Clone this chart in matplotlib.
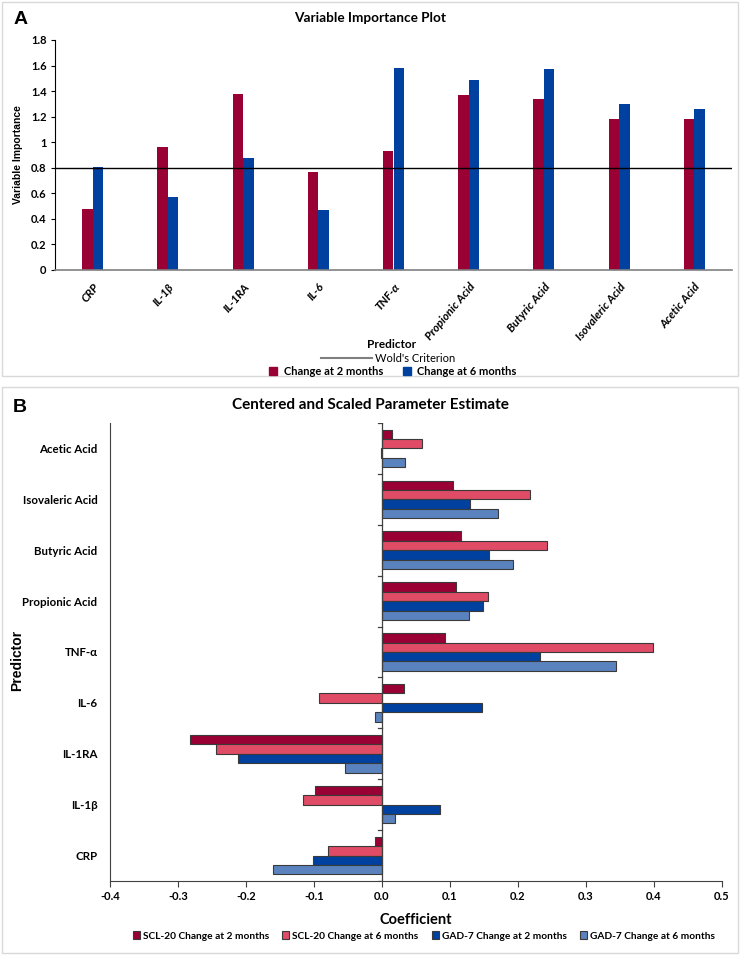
import numpy as np
import matplotlib.pyplot as plt
from matplotlib.patches import Rectangle
from matplotlib.lines import Line2D
from matplotlib.patches import Patch

plt.rcParams['font.family'] = ['Lato', 'DejaVu Sans']

# panel A data
predictors = ['CRP', 'IL-1β', 'IL-1RA', 'IL-6', 'TNF-α', 'Propionic Acid',
              'Butyric Acid', 'Isovaleric Acid', 'Acetic Acid']
vip_2m = [0.48, 0.96, 1.38, 0.77, 0.93, 1.37, 1.34, 1.18, 1.18]
vip_6m = [0.81, 0.57, 0.88, 0.47, 1.58, 1.49, 1.57, 1.30, 1.26]
wold = 0.8

# panel B data (same predictor order, bottom to top)
scl_2m = [-0.011, -0.098, -0.282, 0.033, 0.092, 0.109, 0.116, 0.104, 0.015]
scl_6m = [-0.079, -0.116, -0.244, -0.093, 0.399, 0.156, 0.242, 0.217, 0.059]
gad_2m = [-0.102, 0.086, -0.212, 0.147, 0.233, 0.148, 0.157, 0.130, -0.002]
gad_6m = [-0.161, 0.019, -0.054, -0.010, 0.344, 0.128, 0.193, 0.170, 0.034]

c_red = '#990033'
c_pink = '#E04B66'
c_blue = '#0041A0'
c_lblue = '#5A82BE'

fig = plt.figure(figsize=(7.4, 9.56), dpi=100)
W, H = 740, 956

# panel borders
fig.patches.append(Rectangle((2 / W, 1 - 376 / H), 736 / W, 374 / H, transform=fig.transFigure,
                             fill=False, edgecolor='#d9d9d9', lw=1))
fig.patches.append(Rectangle((2 / W, 1 - 953 / H), 736 / W, 566 / H, transform=fig.transFigure,
                             fill=False, edgecolor='#d9d9d9', lw=1))

# ---------- panel A ----------
axA = fig.add_axes([55 / W, 1 - 270 / H, 677 / W, 230 / H])
x = np.arange(len(predictors))
bw = 0.14
axA.bar(x - bw / 2, vip_2m, bw, color=c_red)
axA.bar(x + bw / 2, vip_6m, bw, color=c_blue)
axA.axhline(wold, color='black', lw=1)
axA.set_xlim(-0.5, len(predictors) - 0.5)
axA.set_ylim(0, 1.8)
axA.set_yticks(np.arange(0, 1.81, 0.2))
axA.set_yticklabels(['0', '0.2', '0.4', '0.6', '0.8', '1', '1.2', '1.4', '1.6', '1.8'],
                    fontsize=8, fontweight='bold')
axA.set_xticks(x)
axA.set_xticklabels(predictors, rotation=50, ha='right', rotation_mode='anchor',
                    fontsize=8.3, fontweight='bold', style='italic')
axA.tick_params(axis='x', length=0, pad=8)
axA.tick_params(axis='y', length=3, pad=3)
for s in ['top', 'right']:
    axA.spines[s].set_visible(False)
axA.spines['bottom'].set_color('#808080')
axA.spines['bottom'].set_linewidth(1.2)
axA.set_ylabel('Variable Importance', fontsize=7.5, fontweight='bold',
               family='Liberation Sans', labelpad=6)
fig.text(370 / W, 1 - 18 / H, 'Variable Importance Plot', ha='center', va='center',
         fontsize=9.8, fontweight='bold')
fig.text(14 / W, 1 - 19 / H, 'A', ha='left', va='center', fontsize=14, fontweight='bold',
         family='Liberation Sans')
fig.text(392 / W, 1 - 345 / H, 'Predictor', ha='center', va='center', fontsize=8.5, fontweight='bold')
fig.legend(handles=[Line2D([0], [0], color='#7f7f7f', lw=1.5)], labels=["Wold's Criterion"],
           loc='center', bbox_to_anchor=(388 / W, 1 - 358 / H), frameon=False,
           fontsize=8, handlelength=4.6, borderpad=0, handletextpad=0.2)
fig.legend(handles=[Patch(color=c_red), Patch(color=c_blue)],
           labels=['Change at 2 months', 'Change at 6 months'],
           loc='center', bbox_to_anchor=(393 / W, 1 - 371 / H), ncol=2, frameon=False,
           prop={'size': 8, 'weight': 'bold'}, handlelength=0.7, handleheight=0.7,
           handletextpad=0.6, columnspacing=1.8, borderpad=0)

# ---------- panel B ----------
axB = fig.add_axes([110 / W, 1 - 881 / H, 612 / W, 458 / H])
y = np.arange(len(predictors))
bh = 0.185
ec = '#3a3a3a'
axB.barh(y + 1.5 * bh, scl_2m, bh, color=c_red, edgecolor=ec, lw=0.8)
axB.barh(y + 0.5 * bh, scl_6m, bh, color=c_pink, edgecolor=ec, lw=0.8)
axB.barh(y - 0.5 * bh, gad_2m, bh, color=c_blue, edgecolor=ec, lw=0.8)
axB.barh(y - 1.5 * bh, gad_6m, bh, color=c_lblue, edgecolor=ec, lw=0.8)
axB.set_xlim(-0.4, 0.5)
axB.set_ylim(-0.5, len(predictors) - 0.5)
axB.axvline(0, color='#404040', lw=0.9)
for b in np.arange(-0.5, len(predictors), 1.0):
    axB.plot([-0.006, 0], [b, b], color='#404040', lw=0.9)
axB.set_xticks(np.arange(-0.4, 0.51, 0.1))
axB.set_xticklabels(['-0.4', '-0.3', '-0.2', '-0.1', '0.0', '0.1', '0.2', '0.3', '0.4', '0.5'],
                    fontsize=8, fontweight='bold')
axB.set_yticks(y)
axB.set_yticklabels(predictors, fontsize=8.3, fontweight='bold')
axB.tick_params(axis='y', length=0, pad=9)
axB.tick_params(axis='x', length=4, color='#404040', pad=3)
for s in ['top', 'right']:
    axB.spines[s].set_visible(False)
axB.spines['left'].set_color('#404040')
axB.spines['bottom'].set_color('#404040')
axB.set_xlabel('Coefficient', fontsize=10.5, fontweight='bold', labelpad=8)
fig.text(17 / W, 1 - 660 / H, 'Predictor', ha='center', va='center', rotation=90,
         fontsize=10, fontweight='bold', family='Liberation Sans')
fig.text(370 / W, 1 - 405 / H, 'Centered and Scaled Parameter Estimate', ha='center',
         va='center', fontsize=11, fontweight='bold')
fig.text(13 / W, 1 - 407 / H, 'B', ha='left', va='center', fontsize=14, fontweight='bold',
         family='Liberation Sans')
fig.legend(handles=[Patch(facecolor=c, edgecolor=ec, lw=0.8) for c in [c_red, c_pink, c_blue, c_lblue]],
           labels=['SCL-20 Change at 2 months', 'SCL-20 Change at 6 months',
                   'GAD-7 Change at 2 months', 'GAD-7 Change at 6 months'],
           loc='center', bbox_to_anchor=(424 / W, 1 - 936 / H), ncol=4, frameon=False,
           prop={'size': 7.3, 'weight': 'bold'}, handlelength=0.7, handleheight=0.7,
           handletextpad=0.3, columnspacing=1.3, borderpad=0)

fig.savefig('out.png', dpi=100)
